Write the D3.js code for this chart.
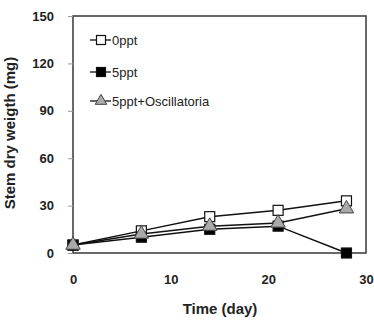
<!DOCTYPE html>
<html>
<head>
<meta charset="utf-8">
<script src="https://cdn.jsdelivr.net/npm/d3@7"></script>
<style>
  body { margin: 0; background: #fff; }
  text { font-family: "Liberation Sans", Arial, sans-serif; }
</style>
</head>
<body>
<div id="chart"></div>
<script>
const days = [0, 7, 14, 21, 28];
const seriesNames = ["0ppt", "5ppt", "5ppt+Oscillatoria"];
const ppt0 = [5, 14, 23, 27, 33];
const ppt5 = [5, 10, 15, 17, 0];
const ppt5osc = [5, 12, 17, 19, 28];
const yTicks = [0, 30, 60, 90, 120, 150];
const xTicks = [0, 10, 20, 30];

const width = 374, height = 322;
const margin = {top: 16, right: 8, bottom: 69, left: 73};
const iw = 366 - margin.left, ih = 253 - margin.top;

const svg = d3.select("#chart").append("svg")
    .attr("width", width)
    .attr("height", height);
const g = svg.append("g")
    .attr("transform", "translate(" + margin.left + "," + margin.top + ")");

const x = d3.scaleLinear().domain([0, 30]).range([0, iw]);
const y = d3.scaleLinear().domain([0, 150]).range([ih, 0]);

// frame
g.append("rect")
    .attr("width", iw).attr("height", ih)
    .attr("fill", "none").attr("stroke", "#444").attr("stroke-width", 1.6);

// y axis
const yAxis = g.append("g")
    .call(d3.axisLeft(y).tickValues(yTicks).tickSize(5).tickPadding(14));
yAxis.select(".domain").remove();
yAxis.selectAll("line").attr("stroke", "#999");
yAxis.selectAll("text")
    .attr("font-size", 13).attr("font-weight", "bold").attr("fill", "#222");

// x axis
const xAxis = g.append("g")
    .attr("transform", "translate(0," + ih + ")")
    .call(d3.axisBottom(x).tickValues(xTicks).tickSize(0).tickPadding(22));
xAxis.select(".domain").remove();
xAxis.selectAll("text")
    .attr("font-size", 13).attr("font-weight", "bold").attr("fill", "#222");

// axis titles
svg.append("text")
    .attr("x", 220).attr("y", 314)
    .attr("text-anchor", "middle")
    .attr("font-size", 15).attr("font-weight", "bold").attr("fill", "#222")
    .text("Time (day)");
svg.append("text")
    .attr("transform", "translate(15,133) rotate(-90)")
    .attr("text-anchor", "middle")
    .attr("font-size", 15).attr("font-weight", "bold").attr("fill", "#222")
    .text("Stem dry weigth (mg)");

const series = [
    {name: seriesNames[0], values: ppt0, shape: "square", fill: "#fff"},
    {name: seriesNames[1], values: ppt5, shape: "square", fill: "#000"},
    {name: seriesNames[2], values: ppt5osc, shape: "triangle", fill: "#aaa"}
];

const line = d3.line()
    .x((d, i) => x(days[i]))
    .y(d => y(d));

function marker(sel, s, size) {
    if (s.shape === "square") {
        sel.append("rect")
            .attr("x", -size / 2).attr("y", -size / 2)
            .attr("width", size).attr("height", size)
            .attr("fill", s.fill).attr("stroke", "#111").attr("stroke-width", 1.2);
    } else {
        sel.append("path")
            .attr("d", d3.symbol().type(d3.symbolTriangle).size(size * size * 0.9)())
            .attr("fill", s.fill).attr("stroke", "#444").attr("stroke-width", 1);
    }
}

series.forEach(s => {
    g.append("path")
        .datum(s.values)
        .attr("fill", "none")
        .attr("stroke", "#111")
        .attr("stroke-width", 1.5)
        .attr("d", line);
});
series.forEach(s => {
    g.selectAll(null)
        .data(s.values)
        .enter()
        .append("g")
        .attr("transform", (d, i) => "translate(" + x(days[i]) + "," + y(d) + ")")
        .each(function () { marker(d3.select(this), s, 10); });
});

// legend
const legendY = [40, 72, 101];
series.forEach((s, i) => {
    const lg = svg.append("g")
        .attr("transform", "translate(101," + legendY[i] + ")");
    lg.append("line")
        .attr("x1", -11).attr("x2", 10)
        .attr("stroke", "#111").attr("stroke-width", 1.3);
    marker(lg, s, s.shape === "triangle" ? 8 : 9);
    lg.append("text")
        .attr("x", 11).attr("y", 4.5)
        .attr("font-size", 13).attr("fill", "#222")
        .text(s.name);
});
</script>
</body>
</html>
